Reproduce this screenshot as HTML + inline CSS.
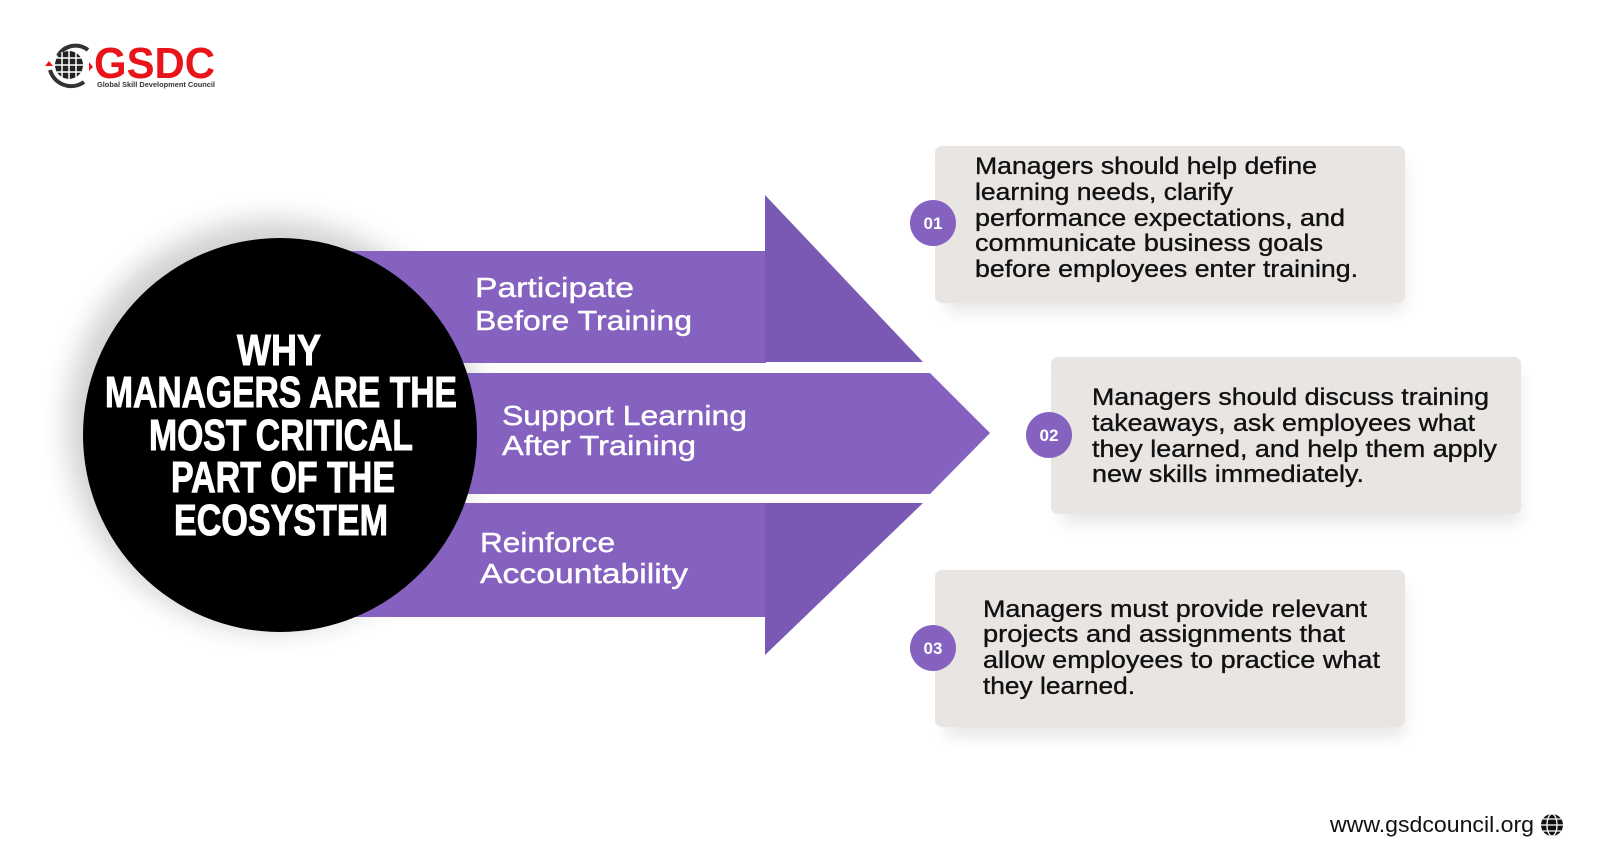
<!DOCTYPE html>
<html><head><meta charset="utf-8"><style>
html,body{margin:0;padding:0;background:#fff;}
svg{display:block;}
</style></head><body>
<svg width="1600" height="866" viewBox="0 0 1600 866" xmlns="http://www.w3.org/2000/svg">
<defs>
<filter id="glow" x="-30%" y="-30%" width="160%" height="160%"><feGaussianBlur stdDeviation="14"/></filter>
<filter id="bs" x="-10%" y="-20%" width="120%" height="150%"><feGaussianBlur stdDeviation="8"/></filter>
</defs>
<rect width="1600" height="866" fill="#fff"/>

<!-- logo -->
<g>
<path d="M58 56 A20 20 0 0 1 88 50" fill="none" stroke="#333" stroke-width="4"/>
<path d="M50 70 A22 22 0 0 0 84 82" fill="none" stroke="#333" stroke-width="4"/>
<circle cx="69" cy="65" r="14" fill="#222"/>
<g stroke="#fff" stroke-width="1.5" fill="none">
<line x1="55" y1="65" x2="83" y2="65"/><line x1="69" y1="51" x2="69" y2="79"/>
<line x1="57" y1="58" x2="81" y2="58"/><line x1="57" y1="72" x2="81" y2="72"/>
<line x1="62" y1="52" x2="62" y2="78"/><line x1="76" y1="52" x2="76" y2="78"/>
</g>
<path d="M45 66 l4 -5 l4 5z" fill="#e11"/>
<path d="M89 62 l4 5 l-4 4z" fill="#e11"/>
<text x="94" y="78" font-family="Liberation Sans, sans-serif" font-weight="bold" font-size="44" fill="#e8141a" textLength="121" lengthAdjust="spacingAndGlyphs">GSDC</text>
<text x="97" y="87" font-family="Liberation Sans, sans-serif" font-weight="bold" font-size="7" fill="#333" textLength="118" lengthAdjust="spacingAndGlyphs">Global Skill Development Council</text>
</g>

<!-- circle glow -->
<circle cx="272" cy="425" r="205" fill="#000" opacity="0.18" filter="url(#glow)"/>

<!-- arrows -->
<rect x="330" y="251" width="436" height="112" fill="#8561c0"/>
<polygon points="765,195 923,362 765,362" fill="#7a59b4"/>
<polygon points="330,373 930,373 990,433 930,494 330,494" fill="#8561c0"/>
<rect x="330" y="503" width="436" height="114" fill="#8561c0"/>
<polygon points="765,503 923,503 765,655" fill="#7a59b4"/>

<!-- circle -->
<circle cx="280" cy="435" r="197" fill="#000"/>
<g font-family="Liberation Sans Narrow, Liberation Sans, sans-serif" font-weight="bold" font-size="44" fill="#fff" stroke="#fff" stroke-width="1" text-anchor="middle">
<text x="279" y="365" textLength="84" lengthAdjust="spacingAndGlyphs">WHY</text>
<text x="281" y="407" textLength="352" lengthAdjust="spacingAndGlyphs">MANAGERS ARE THE</text>
<text x="281" y="450" textLength="264" lengthAdjust="spacingAndGlyphs">MOST CRITICAL</text>
<text x="283" y="492" textLength="224" lengthAdjust="spacingAndGlyphs">PART OF THE</text>
<text x="281" y="535" textLength="214" lengthAdjust="spacingAndGlyphs">ECOSYSTEM</text>
</g>

<!-- arrow labels -->
<g font-family="Liberation Sans, sans-serif" font-size="28" fill="#fff" stroke="#fff" stroke-width="0.4">
<text x="475" y="297" textLength="159" lengthAdjust="spacingAndGlyphs">Participate</text>
<text x="475" y="330" textLength="217" lengthAdjust="spacingAndGlyphs">Before Training</text>
<text x="502" y="425" textLength="245" lengthAdjust="spacingAndGlyphs">Support Learning</text>
<text x="502" y="455" textLength="194" lengthAdjust="spacingAndGlyphs">After Training</text>
<text x="480" y="552" textLength="135" lengthAdjust="spacingAndGlyphs">Reinforce</text>
<text x="480" y="583" textLength="208" lengthAdjust="spacingAndGlyphs">Accountability</text>
</g>

<!-- box shadows -->
<rect x="945" y="160" width="460" height="152" rx="8" fill="#000" opacity="0.09" filter="url(#bs)"/>
<rect x="1061" y="372" width="460" height="152" rx="8" fill="#000" opacity="0.09" filter="url(#bs)"/>
<rect x="945" y="585" width="460" height="152" rx="8" fill="#000" opacity="0.09" filter="url(#bs)"/>
<!-- boxes -->
<rect x="935" y="146" width="470" height="157" rx="7" fill="#e8e5e3"/>
<rect x="1051" y="357" width="470" height="157" rx="7" fill="#e8e5e3"/>
<rect x="935" y="570" width="470" height="157" rx="7" fill="#e8e5e3"/>

<!-- badges -->
<g font-family="Liberation Sans, sans-serif" font-weight="bold" font-size="17" fill="#fff" text-anchor="middle">
<circle cx="933" cy="223" r="23" fill="#8561c0"/><text x="933" y="229">01</text>
<circle cx="1049" cy="435" r="23" fill="#8561c0"/><text x="1049" y="441">02</text>
<circle cx="933" cy="648" r="23" fill="#8561c0"/><text x="933" y="654">03</text>
</g>

<!-- box text -->
<g font-family="Liberation Sans, sans-serif" font-size="24" fill="#111" stroke="#111" stroke-width="0.35">
<text x="975" y="174" textLength="342" lengthAdjust="spacingAndGlyphs">Managers should help define</text>
<text x="975" y="200" textLength="258" lengthAdjust="spacingAndGlyphs">learning needs, clarify</text>
<text x="975" y="226" textLength="370" lengthAdjust="spacingAndGlyphs">performance expectations, and</text>
<text x="975" y="251" textLength="348" lengthAdjust="spacingAndGlyphs">communicate business goals</text>
<text x="975" y="277" textLength="383" lengthAdjust="spacingAndGlyphs">before employees enter training.</text>

<text x="1092" y="405" textLength="397" lengthAdjust="spacingAndGlyphs">Managers should discuss training</text>
<text x="1092" y="431" textLength="383" lengthAdjust="spacingAndGlyphs">takeaways, ask employees what</text>
<text x="1092" y="457" textLength="405" lengthAdjust="spacingAndGlyphs">they learned, and help them apply</text>
<text x="1092" y="482" textLength="272" lengthAdjust="spacingAndGlyphs">new skills immediately.</text>

<text x="983" y="617" textLength="384" lengthAdjust="spacingAndGlyphs">Managers must provide relevant</text>
<text x="983" y="642" textLength="362" lengthAdjust="spacingAndGlyphs">projects and assignments that</text>
<text x="983" y="668" textLength="397" lengthAdjust="spacingAndGlyphs">allow employees to practice what</text>
<text x="983" y="694" textLength="152" lengthAdjust="spacingAndGlyphs">they learned.</text>
</g>

<!-- footer -->
<text x="1330" y="832" font-family="Liberation Sans, sans-serif" font-size="22" fill="#111" textLength="204" lengthAdjust="spacingAndGlyphs">www.gsdcouncil.org</text>
<circle cx="1552" cy="825" r="11" fill="#111"/>
<g stroke="#fff" stroke-width="1.3" fill="none">
<line x1="1541" y1="825" x2="1563" y2="825"/>
<ellipse cx="1552" cy="825" rx="5" ry="11"/>
<line x1="1543" y1="819" x2="1561" y2="819"/><line x1="1543" y1="831" x2="1561" y2="831"/>
</g>
</svg>
</body></html>
